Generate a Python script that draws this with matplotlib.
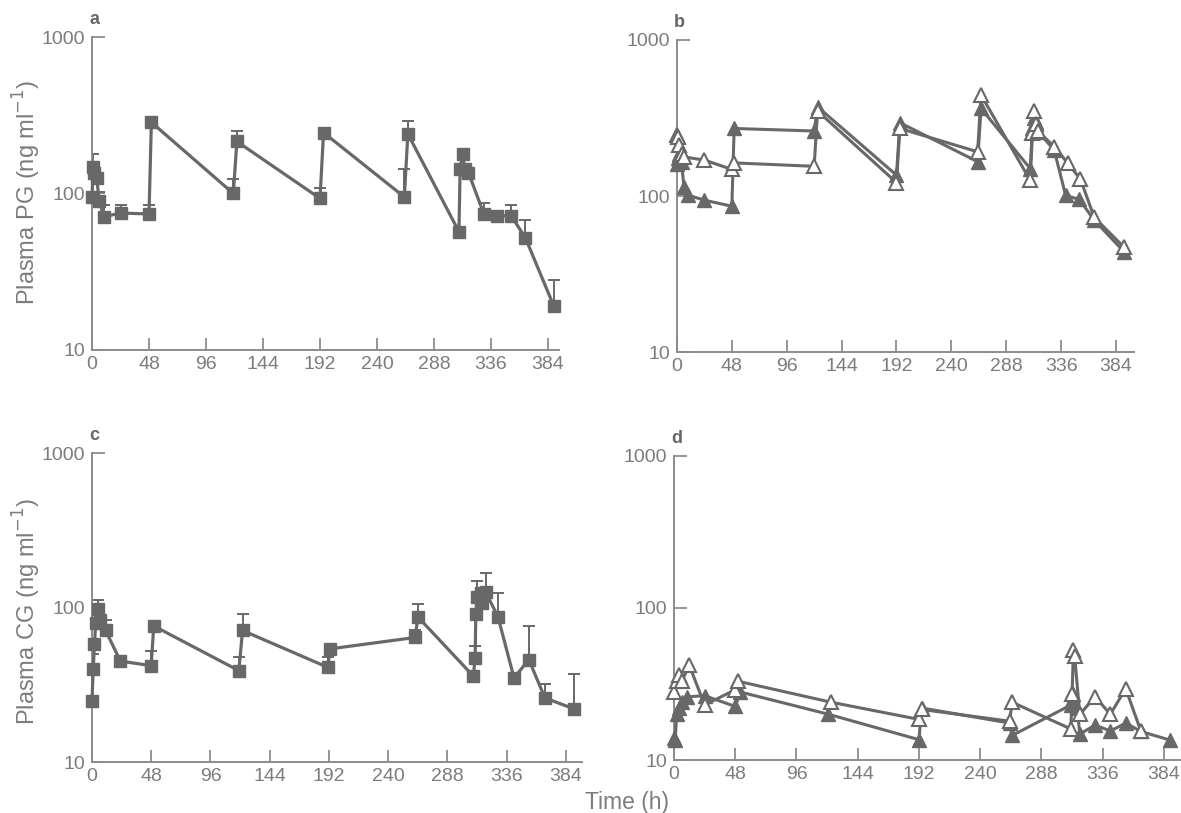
import numpy as np
import matplotlib.pyplot as plt
from matplotlib.ticker import NullLocator

plt.rcParams['font.family'] = ['Liberation Sans', 'DejaVu Sans']

W, H = 1181, 813
LINE = '#686868'
AXC = '#8c8c8c'
TXT = '#7c7c7c'

# panel a: plasma PG, mean with upper SD
a_t = [0, 1, 2, 4, 6, 10, 24, 48, 50, 119, 122, 192, 195, 263, 266,
       309, 310, 312, 314, 317, 330, 341, 353, 365, 389]
a_y = [95, 147, 136, 126, 90, 71, 75, 74, 285, 100, 215, 93, 245, 95, 240,
       57, 143, 178, 143, 136, 74, 72, 72, 52, 19]
a_err_t = [1, 6, 10, 24, 48, 119, 122, 192, 263, 266, 330, 353, 365, 389]
a_err_top = [178, 102, 85, 85, 85, 123, 250, 108, 143, 290, 87, 85, 68, 28]

# panel b: plasma PG, two individual subjects
b_fill_t = [0, 1, 2, 4, 6, 10, 24, 48, 50, 120, 123, 192, 195, 263, 266,
            309, 311, 312, 314, 316, 330, 340, 352, 365, 391]
b_fill_y = [160, 175, 185, 165, 115, 101, 94, 86, 271, 261, 373, 136, 295, 166, 364,
            150, 271, 314, 299, 258, 197, 101, 95, 70, 44]
b_open_t = [0, 1, 2, 4, 6, 24, 48, 50, 120, 123, 192, 195, 263, 266,
            309, 311, 312, 314, 316, 330, 342, 353, 365, 391]
b_open_y = [246, 240, 212, 187, 178, 170, 148, 163, 155, 350, 122, 271, 192, 444,
            126, 252, 350, 290, 260, 207, 162, 128, 73, 47]

# panel c: plasma CG, mean with upper SD
c_t = [0, 1, 2, 3, 5, 6.5, 11, 23, 48, 50, 119, 122, 191, 193, 262, 264,
       309, 310.5, 311, 312, 315, 316, 319, 329, 342, 354, 367, 391]
c_y = [25, 40, 58, 79, 98, 83, 71, 45, 42, 76, 39, 71, 41, 54, 64, 87,
       36, 47, 91, 117, 124, 107, 126, 87, 35, 46, 26, 22]
c_err_t = [1, 5, 11, 48, 119, 122, 191, 262, 264, 310.5, 312, 319, 329, 354, 367, 391]
c_err_top = [50, 112, 83, 52, 48, 91, 48, 71, 105, 56, 148, 166, 124, 76, 32, 37]

# panel d: plasma CG, two individual subjects
d_fill_t = [0, 1, 2, 4, 6, 10, 24, 48, 52, 121, 192, 194, 263, 265,
            311, 312, 313, 316, 318, 330, 342, 354, 366, 389]
d_fill_y = [14, 13.5, 20, 22, 24, 26, 26.5, 22.5, 28, 20, 13.6, 22, 17.5, 14.5,
            23, 25, 27, 22, 14.8, 17, 15.5, 17.5, 15.4, 13.5]
d_open_t = [0, 2, 4, 6, 12, 24, 48, 50, 123, 192, 194, 263, 265,
            311, 312, 313, 314, 318, 330, 342, 354, 366]
d_open_y = [28, 33, 36, 33, 42, 23, 29, 33, 24, 18.5, 21.5, 18, 24,
            16, 27, 53, 48, 20, 26, 20, 29.5, 15.4]

xticks = list(range(0, 385, 48))

fig = plt.figure(figsize=(W / 100, H / 100), dpi=100)


def make_panel(x0, y_top, y_bot, px_per_h, xmax, letter):
    ax = fig.add_axes([x0 / W, 1 - y_bot / H, xmax * px_per_h / W, (y_bot - y_top) / H])
    ax.set_yscale('log')
    ax.set_ylim(10, 1000)
    ax.set_xlim(0, xmax)
    ax.set_yticks([10, 100, 1000])
    ax.set_yticklabels(['10', '100', '1000'])
    ax.yaxis.set_minor_locator(NullLocator())
    ax.set_xticks(xticks)
    ax.set_xticklabels([str(v) for v in xticks])
    for s in ['top', 'right']:
        ax.spines[s].set_visible(False)
    for s in ['left', 'bottom']:
        ax.spines[s].set_color(AXC)
        ax.spines[s].set_linewidth(1.4)
    ax.tick_params(direction='in', length=9, width=1.3, color=AXC,
                   labelcolor=TXT, labelsize=14)
    ax.tick_params(axis='x', pad=4)
    ax.tick_params(axis='y', pad=5)
    ax.patch.set_alpha(0)
    ax.text(-3 / (xmax * px_per_h), 1 + 9 / (y_bot - y_top), letter,
            transform=ax.transAxes, fontsize=13, fontweight='bold',
            color='#666666', ha='left', va='bottom')
    return ax


def mean_panel(ax, t, y, et, etop):
    base = np.interp(et, t, y)
    ax.errorbar(et, base, yerr=[np.zeros(len(et)), np.array(etop) - base], fmt='none',
                ecolor=LINE, elinewidth=1.4, capsize=4.5, capthick=1.4, zorder=2)
    ax.plot(t, y, color=LINE, lw=2.3, marker='s', ms=9,
            mfc=LINE, mec=LINE, zorder=3, clip_on=False)


def pair_panel(ax, tf, yf, to, yo):
    ax.plot(tf, yf, color=LINE, lw=2.2, marker='^', ms=9.5,
            mfc=LINE, mec=LINE, zorder=3, clip_on=False)
    ax.plot(to, yo, color=LINE, lw=2.2, marker='^', ms=10,
            mfc='white', mec=LINE, mew=1.5, zorder=4, clip_on=False)


ax_a = make_panel(92, 37, 350, 1.1875, 393, 'a')
mean_panel(ax_a, a_t, a_y, a_err_t, a_err_top)

ax_b = make_panel(677, 40, 352, 1.143, 400, 'b')
pair_panel(ax_b, b_fill_t, b_fill_y, b_open_t, b_open_y)

ax_c = make_panel(92, 453, 762, 1.234, 397, 'c')
mean_panel(ax_c, c_t, c_y, c_err_t, c_err_top)

ax_d = make_panel(674, 456, 760, 1.276, 400, 'd')
pair_panel(ax_d, d_fill_t, d_fill_y, d_open_t, d_open_y)

fig.text(27 / W, 1 - 192 / H, 'Plasma PG (ng ml$^{-1}$)', rotation=90,
         ha='center', va='center', fontsize=17, color=TXT)
fig.text(27 / W, 1 - 612 / H, 'Plasma CG (ng ml$^{-1}$)', rotation=90,
         ha='center', va='center', fontsize=17, color=TXT)
fig.text(627 / W, 1 - 802 / H, 'Time (h)', ha='center', va='center',
         fontsize=16.5, color=TXT)

fig.savefig('out.png', dpi=100, facecolor='white')
